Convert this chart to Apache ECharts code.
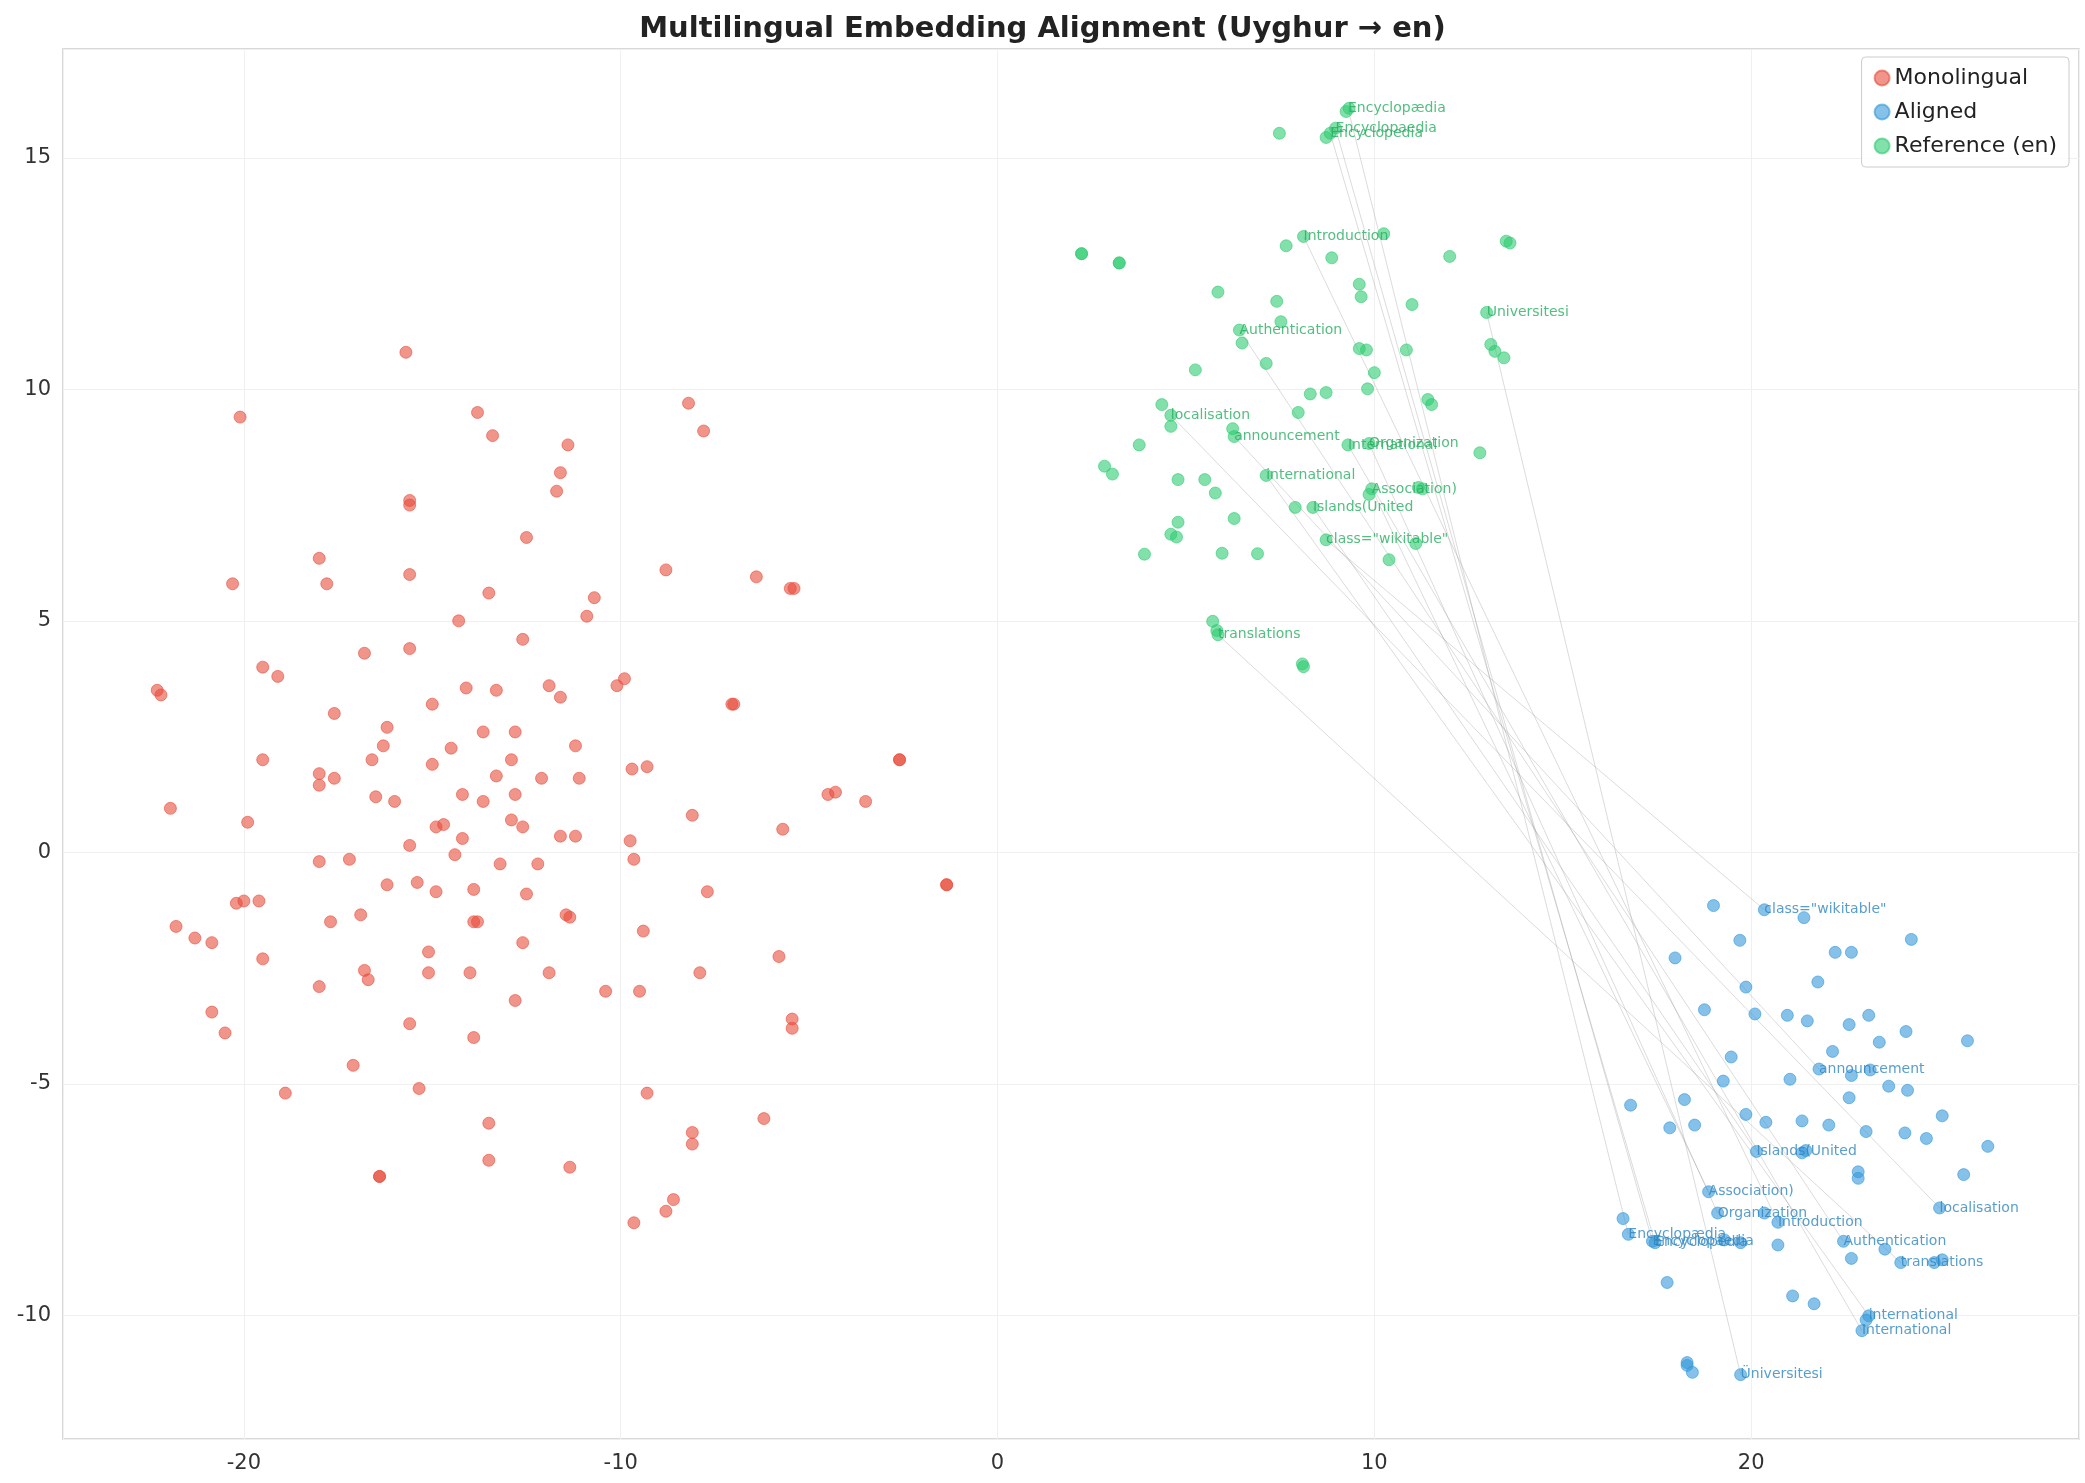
<!DOCTYPE html>
<html><head><meta charset="utf-8">
<script src="https://cdn.jsdelivr.net/npm/echarts@6/dist/echarts.min.js"></script>
<style>html,body{margin:0;padding:0;background:#fff}#c{width:2085px;height:1483px}</style>
</head><body><div id="c"></div>
<script>
const monolingual = [[-15.7,10.8],[-20.1,9.4],[-13.8,9.5],[-13.4,9.0],[-11.4,8.8],[-8.2,9.7],[-7.8,9.1],[-11.6,8.2],[-11.7,7.8],[-15.6,7.6],[-15.6,7.5],[-12.5,6.8],[-18.0,6.35],[-17.8,5.8],[-15.6,6.0],[-8.8,6.1],[-6.4,5.95],[-5.5,5.7],[-5.4,5.7],[-20.3,5.8],[-13.5,5.6],[-10.7,5.5],[-10.9,5.1],[-14.3,5.0],[-19.5,4.0],[-19.1,3.8],[-22.3,3.5],[-22.2,3.4],[-16.8,4.3],[-15.6,4.4],[-12.6,4.6],[-14.1,3.55],[-13.3,3.5],[-15.0,3.2],[-9.9,3.75],[-10.1,3.6],[-7.0,3.2],[-7.05,3.2],[-11.9,3.6],[-11.6,3.35],[-17.6,3.0],[-16.2,2.7],[-16.3,2.3],[-13.65,2.6],[-12.8,2.6],[-11.2,2.3],[-14.5,2.25],[-15.0,1.9],[-12.9,2.0],[-16.6,2.0],[-19.5,2.0],[-9.7,1.8],[-9.3,1.85],[-2.6,2.0],[-2.6,2.0],[-16.0,1.1],[-16.5,1.2],[-18.0,1.7],[-18.0,1.45],[-17.6,1.6],[-13.3,1.65],[-12.1,1.6],[-11.1,1.6],[-4.3,1.3],[-4.5,1.25],[-3.5,1.1],[-14.2,1.25],[-13.65,1.1],[-12.8,1.25],[-14.9,0.55],[-14.7,0.6],[-12.9,0.7],[-12.6,0.55],[-21.95,0.95],[-19.9,0.65],[-8.1,0.8],[-15.6,0.15],[-14.2,0.3],[-11.2,0.35],[-11.6,0.35],[-9.75,0.25],[-9.65,-0.15],[-14.4,-0.05],[-5.7,0.5],[-18.0,-0.2],[-17.2,-0.15],[-13.2,-0.25],[-12.2,-0.25],[-20.2,-1.1],[-20.0,-1.05],[-19.6,-1.05],[-16.2,-0.7],[-15.4,-0.65],[-14.9,-0.85],[-13.9,-0.8],[-12.5,-0.9],[-7.7,-0.85],[-1.35,-0.7],[-1.35,-0.7],[-21.8,-1.6],[-21.3,-1.85],[-20.85,-1.95],[-17.7,-1.5],[-16.9,-1.35],[-13.9,-1.5],[-13.8,-1.5],[-11.45,-1.35],[-11.35,-1.4],[-9.4,-1.7],[-19.5,-2.3],[-15.1,-2.15],[-12.6,-1.95],[-16.8,-2.55],[-16.7,-2.75],[-18.0,-2.9],[-11.9,-2.6],[-7.9,-2.6],[-5.8,-2.25],[-14.0,-2.6],[-15.1,-2.6],[-12.8,-3.2],[-10.4,-3.0],[-9.5,-3.0],[-20.85,-3.45],[-20.5,-3.9],[-15.6,-3.7],[-13.9,-4.0],[-5.45,-3.6],[-5.45,-3.8],[-17.1,-4.6],[-18.9,-5.2],[-15.35,-5.1],[-9.3,-5.2],[-13.5,-5.85],[-6.2,-5.75],[-8.1,-6.05],[-8.1,-6.3],[-16.4,-7.0],[-16.4,-7.0],[-13.5,-6.65],[-11.35,-6.8],[-9.65,-8.0],[-8.8,-7.75],[-8.6,-7.5]];
const aligned = [[19.0,-1.15],[20.35,-1.24],[21.4,-1.41],[24.25,-1.88],[17.98,-2.28],[19.7,-1.9],[22.23,-2.16],[22.66,-2.16],[21.77,-2.8],[19.86,-2.91],[20.1,-3.49],[18.76,-3.4],[20.96,-3.52],[21.49,-3.64],[22.6,-3.72],[23.12,-3.52],[24.11,-3.87],[23.4,-4.1],[25.74,-4.07],[22.16,-4.3],[19.47,-4.42],[21.03,-4.9],[21.8,-4.68],[22.66,-4.82],[23.16,-4.7],[23.65,-5.05],[24.15,-5.14],[19.26,-4.94],[18.23,-5.34],[16.8,-5.46],[19.86,-5.66],[20.39,-5.83],[21.35,-5.8],[22.06,-5.89],[23.05,-6.03],[24.08,-6.06],[24.65,-6.18],[25.07,-5.69],[17.84,-5.95],[18.5,-5.89],[22.6,-5.3],[20.14,-6.46],[21.35,-6.49],[21.45,-6.44],[22.84,-6.9],[22.84,-7.04],[25.64,-6.96],[26.28,-6.35],[18.87,-7.33],[19.11,-7.79],[20.35,-7.79],[20.71,-7.99],[19.72,-8.43],[20.71,-8.48],[22.45,-8.4],[22.66,-8.77],[23.55,-8.57],[23.97,-8.86],[24.86,-8.86],[25.07,-8.8],[25.0,-7.68],[16.6,-7.91],[16.74,-8.25],[17.38,-8.4],[17.45,-8.43],[19.29,-8.37],[17.77,-9.29],[21.1,-9.58],[21.67,-9.75],[23.12,-10.01],[23.05,-10.1],[22.94,-10.33],[18.3,-11.02],[18.3,-11.08],[18.44,-11.23],[19.72,-11.28]];
const reference = [[9.33,16.07],[9.25,16.0],[8.97,15.64],[8.83,15.53],[7.48,15.53],[8.72,15.44],[2.23,12.93],[2.23,12.93],[3.23,12.73],[3.23,12.73],[8.12,13.3],[10.25,13.36],[7.66,13.1],[8.87,12.84],[12.0,12.87],[13.5,13.2],[13.6,13.16],[5.85,12.1],[7.41,11.9],[9.6,12.27],[9.65,12.0],[11.0,11.83],[12.98,11.66],[7.52,11.46],[6.42,11.28],[6.49,11.0],[9.6,10.88],[9.79,10.85],[10.85,10.85],[13.09,10.97],[13.2,10.82],[13.44,10.68],[7.13,10.56],[10.0,10.36],[5.25,10.42],[8.3,9.9],[8.72,9.93],[9.82,10.01],[11.42,9.78],[11.52,9.67],[4.36,9.67],[4.6,9.44],[4.6,9.2],[7.98,9.5],[6.24,9.15],[6.28,8.98],[9.3,8.8],[9.86,8.83],[3.76,8.8],[2.84,8.34],[3.05,8.17],[12.8,8.63],[7.13,8.14],[4.79,8.05],[5.5,8.05],[9.93,7.85],[9.86,7.73],[11.17,7.88],[11.28,7.85],[5.78,7.76],[7.9,7.45],[8.37,7.45],[6.28,7.21],[4.79,7.13],[4.6,6.87],[4.75,6.81],[8.72,6.75],[11.1,6.67],[5.96,6.46],[6.9,6.45],[10.39,6.32],[3.9,6.44],[5.71,4.99],[5.82,4.79],[5.85,4.7],[8.09,4.07],[8.12,4.01]];
const refWords = ['Encyclopædia','Encyclopaedia','Encyclopedia','Introduction','Universitesi','Authentication','localisation','announcement','International','Organization','international','Association)','Islands(United','class="wikitable"','translations'];
const alignWords = ['Encyclopædia','Encyclopaedia','Encyclopedia','Introduction','Üniversitesi','Authentication','localisation','announcement','International','Organization','international','Association)','Islands(United','class="wikitable"','translations'];
const refLabelPts = [[9.3,16.07],[8.97,15.64],[8.83,15.53],[8.12,13.3],[12.98,11.66],[6.42,11.28],[4.6,9.44],[6.28,8.98],[9.3,8.8],[9.86,8.83],[7.13,8.14],[9.93,7.85],[8.37,7.45],[8.72,6.75],[5.85,4.7]];
const alignLabelPts = [[16.74,-8.25],[17.38,-8.4],[17.45,-8.43],[20.71,-7.99],[19.72,-11.28],[22.45,-8.4],[25.0,-7.68],[21.8,-4.68],[22.94,-10.33],[19.11,-7.79],[23.12,-10.01],[18.87,-7.33],[20.14,-6.46],[20.35,-1.24],[23.97,-8.86]];

const RED='#e74c3c', BLUE='#3498db', GREEN='#2ecc71';
const ch = echarts.init(document.getElementById('c'));
const pairLines = refLabelPts.map((p,i)=>({coords:[p, alignLabelPts[i]]}));
const lab = (pts, words, color) => pts.map((p,i)=>({value:p, label:{show:true, formatter:words[i], position:'right', distance:0, color:color, fontSize:14, fontFamily:'DejaVu Sans'}}));
const sc = (name, data, color) => ({name, type:'scatter', data, symbolSize:12,
  itemStyle:{color:color, opacity:0.6, borderColor:color, borderWidth:1}, z:3});
ch.setOption({
  animation:false,
  title:{text:'Multilingual Embedding Alignment (Uyghur → en)', left:'center', top:10,
    textStyle:{fontSize:29, fontWeight:'bold', color:'#222', fontFamily:'DejaVu Sans'}},
  legend:{right:16, top:57, orient:'vertical', itemWidth:15, itemHeight:15, itemGap:12, align:'left',
    backgroundColor:'rgba(255,255,255,0.8)', borderColor:'#ccc', borderWidth:1, borderRadius:4, padding:[10,12],
    textStyle:{fontSize:22, color:'#222', fontFamily:'DejaVu Sans'},
    data:[{name:'Monolingual',icon:'circle'},{name:'Aligned',icon:'circle'},{name:'Reference (en)',icon:'circle'}]},
  grid:{left:63, right:6, top:49, bottom:44, show:true, borderColor:'#ccc', borderWidth:1.5},
  xAxis:{type:'value', min:-24.8, max:28.7, splitNumber:5,
    axisLine:{show:false}, axisTick:{show:false},
    axisLabel:{fontSize:21, color:'#333', fontFamily:'DejaVu Sans', showMinLabel:false, showMaxLabel:false, margin:14},
    splitLine:{lineStyle:{color:'#f0f0f0'}}},
  yAxis:{type:'value', min:-12.67, max:17.35, splitNumber:6,
    axisLine:{show:false}, axisTick:{show:false},
    axisLabel:{fontSize:21, color:'#333', fontFamily:'DejaVu Sans', showMinLabel:false, showMaxLabel:false, margin:12},
    splitLine:{lineStyle:{color:'#f0f0f0'}}},
  series:[
    {type:'lines', coordinateSystem:'cartesian2d', data:pairLines, silent:true, z:1,
      lineStyle:{color:'#999', width:1, opacity:0.35}},
    sc('Monolingual', monolingual, RED),
    sc('Aligned', aligned, BLUE),
    sc('Reference (en)', reference, GREEN),
    {type:'scatter', data:lab(refLabelPts, refWords, '#27ae60'), symbolSize:0, z:4, silent:true},
    {type:'scatter', data:lab(alignLabelPts, alignWords, '#2e86c1'), symbolSize:0, z:4, silent:true}
  ]
});
</script></body></html>
